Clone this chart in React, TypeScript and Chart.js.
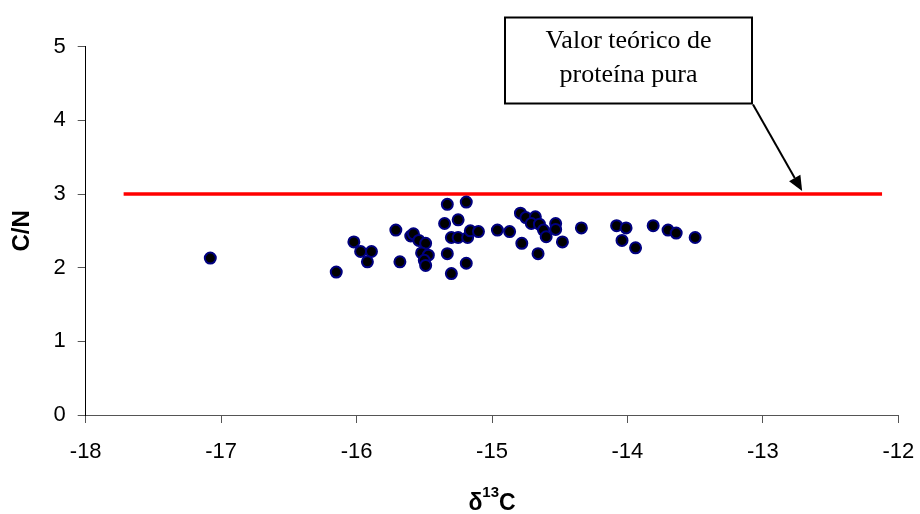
import React, { useEffect, useRef } from "react";
import { Chart, registerables } from "chart.js";

Chart.register(...registerables);

// δ13C values (x) and C/N values (y)
const d13C: number[] = [
  -17.08, -16.15, -16.02, -15.97, -15.89, -15.92, -15.33, -15.19, -15.35, -15.25,
  -15.71, -15.60, -15.58, -15.54, -15.49, -15.52, -15.47, -15.50, -15.49, -15.68,
  -15.33, -15.30, -15.19, -15.30, -15.25, -15.18, -15.16, -15.10, -14.96, -14.87,
  -14.79, -14.75, -14.68, -14.71, -14.65, -14.62, -14.60, -14.78, -14.66, -14.53,
  -14.53, -14.48, -14.34, -14.08, -14.01, -14.04, -13.94, -13.81, -13.70, -13.64,
  -13.50,
];
const cnRatio: number[] = [
  2.13, 1.94, 2.35, 2.22, 2.22, 2.08, 2.86, 2.89, 2.60, 2.65,
  2.51, 2.43, 2.46, 2.37, 2.33, 2.20, 2.17, 2.10, 2.03, 2.08,
  2.19, 1.92, 2.06, 2.41, 2.41, 2.41, 2.50, 2.49, 2.51, 2.49,
  2.74, 2.68, 2.69, 2.60, 2.59, 2.51, 2.42, 2.33, 2.19, 2.60,
  2.52, 2.35, 2.54, 2.57, 2.54, 2.37, 2.27, 2.57, 2.51, 2.47,
  2.41,
];

// Theoretical pure-protein reference line
const refLineX: number[] = [-17.72, -12.12];
const refLineY: number[] = [3, 3];

// Axis ranges / ticks
const xRange: number[] = [-18, -12];
const yRange: number[] = [0, 5];

// Annotation
const annotationText: string[] = ["Valor teórico de", "proteína pura"];
const arrowTipX: number[] = [-12.71];
const arrowTipY: number[] = [3];

const SANS = "'Liberation Sans', Arial, sans-serif";
const SERIF = "'Liberation Serif', 'Times New Roman', serif";

const overlayPlugin = {
  id: "overlay",
  afterDraw(chart: any) {
    const ctx: CanvasRenderingContext2D = chart.ctx;
    const { top, bottom, left, right } = chart.chartArea;
    const xs = chart.scales.x;
    const ys = chart.scales.y;

    // Y axis title
    ctx.save();
    ctx.translate(22, (top + bottom) / 2);
    ctx.rotate(-Math.PI / 2);
    ctx.font = `bold 24px ${SANS}`;
    ctx.fillStyle = "#000";
    ctx.textAlign = "center";
    ctx.textBaseline = "middle";
    ctx.fillText("C/N", 0, 0);
    ctx.restore();

    // X axis title: δ13C with superscript
    ctx.save();
    ctx.fillStyle = "#000";
    ctx.textBaseline = "alphabetic";
    ctx.textAlign = "left";
    const bigFont = `bold 23px ${SANS}`;
    const supFont = `bold 15px ${SANS}`;
    ctx.font = bigFont;
    const wD = ctx.measureText("δ").width;
    const wC = ctx.measureText("C").width;
    ctx.font = supFont;
    const w13 = ctx.measureText("13").width;
    const total = wD + w13 + wC;
    let sx = (left + right) / 2 - total / 2;
    const base = 510;
    ctx.font = bigFont;
    ctx.fillText("δ", sx, base);
    sx += wD;
    ctx.font = supFont;
    ctx.fillText("13", sx, base - 13);
    sx += w13;
    ctx.font = bigFont;
    ctx.fillText("C", sx, base);
    ctx.restore();

    // Annotation box
    const bx = 505, by = 17.5, bw = 247, bh = 86;
    ctx.save();
    ctx.fillStyle = "#fff";
    ctx.fillRect(bx, by, bw, bh);
    ctx.strokeStyle = "#000";
    ctx.lineWidth = 2;
    ctx.strokeRect(bx, by, bw, bh);
    ctx.fillStyle = "#000";
    ctx.font = `26px ${SERIF}`;
    ctx.textAlign = "center";
    ctx.textBaseline = "alphabetic";
    ctx.fillText(annotationText[0], bx + bw / 2, 47.5);
    ctx.fillText(annotationText[1], bx + bw / 2, 81.5);

    // Arrow
    const x0 = bx + bw + 1, y0 = by + bh + 1;
    const tx = xs.getPixelForValue(arrowTipX[0]);
    const ty = ys.getPixelForValue(arrowTipY[0]) - 3;
    const ang = Math.atan2(ty - y0, tx - x0);
    const headLen = 15, headW = 6.5;
    const hx = tx - headLen * Math.cos(ang);
    const hy = ty - headLen * Math.sin(ang);
    ctx.strokeStyle = "#000";
    ctx.lineWidth = 2;
    ctx.beginPath();
    ctx.moveTo(x0, y0);
    ctx.lineTo(hx, hy);
    ctx.stroke();
    ctx.beginPath();
    ctx.moveTo(tx, ty);
    ctx.lineTo(hx + headW * Math.sin(ang), hy - headW * Math.cos(ang));
    ctx.lineTo(hx - headW * Math.sin(ang), hy + headW * Math.cos(ang));
    ctx.closePath();
    ctx.fillStyle = "#000";
    ctx.fill();
    ctx.restore();
  },
};

export default function App() {
  const canvasRef = useRef<HTMLCanvasElement | null>(null);

  useEffect(() => {
    const canvas = canvasRef.current;
    if (!canvas) return;
    const chart = new Chart(canvas, {
      type: "scatter",
      data: {
        datasets: [
          {
            label: "C/N",
            data: d13C.map((x, i) => ({ x, y: cnRatio[i] })),
            backgroundColor: "#000000",
            borderColor: "#000080",
            borderWidth: 2,
            pointRadius: 5.5,
            pointHoverRadius: 5.5,
            order: 1,
          },
          {
            type: "line",
            label: "Valor teórico",
            data: refLineX.map((x, i) => ({ x, y: refLineY[i] })),
            borderColor: "#ff0000",
            borderWidth: 3.5,
            pointRadius: 0,
            fill: false,
            order: 2,
          } as any,
        ],
      },
      options: {
        responsive: false,
        animation: false,
        devicePixelRatio: 1,
        layout: { padding: { left: 0, right: 21.7, top: 46.7, bottom: 0 } },
        plugins: {
          legend: { display: false },
          tooltip: { enabled: false },
          title: { display: false },
        },
        scales: {
          x: {
            type: "linear",
            min: xRange[0],
            max: xRange[1],
            afterFit: (scale: any) => {
              scale.height = 99;
              scale.paddingLeft = 0;
              scale.paddingRight = 0;
            },
            ticks: {
              stepSize: 1,
              color: "#000",
              font: { family: SANS, size: 22 },
              padding: 16,
              maxRotation: 0,
            },
            grid: {
              display: true,
              drawOnChartArea: false,
              drawTicks: true,
              tickLength: 8,
              color: "#555",
              lineWidth: 1,
            },
            border: { display: true, color: "#555", width: 1 },
          },
          y: {
            type: "linear",
            min: yRange[0],
            max: yRange[1],
            afterFit: (scale: any) => {
              scale.width = 85.7;
              scale.paddingTop = 0;
              scale.paddingBottom = 0;
            },
            ticks: {
              stepSize: 1,
              color: "#000",
              font: { family: SANS, size: 22 },
              padding: 12,
            },
            grid: {
              display: true,
              drawOnChartArea: false,
              drawTicks: true,
              tickLength: 8,
              color: "#555",
              lineWidth: 1,
            },
            border: { display: true, color: "#000", width: 1 },
          },
        },
      },
      plugins: [overlayPlugin],
    });
    return () => chart.destroy();
  }, []);

  return (
    <div style={{ position: "absolute", left: 0, top: 0, width: 920, height: 514, background: "#fff" }}>
      <canvas ref={canvasRef} width={920} height={514} style={{ width: 920, height: 514, display: "block" }} />
    </div>
  );
}
